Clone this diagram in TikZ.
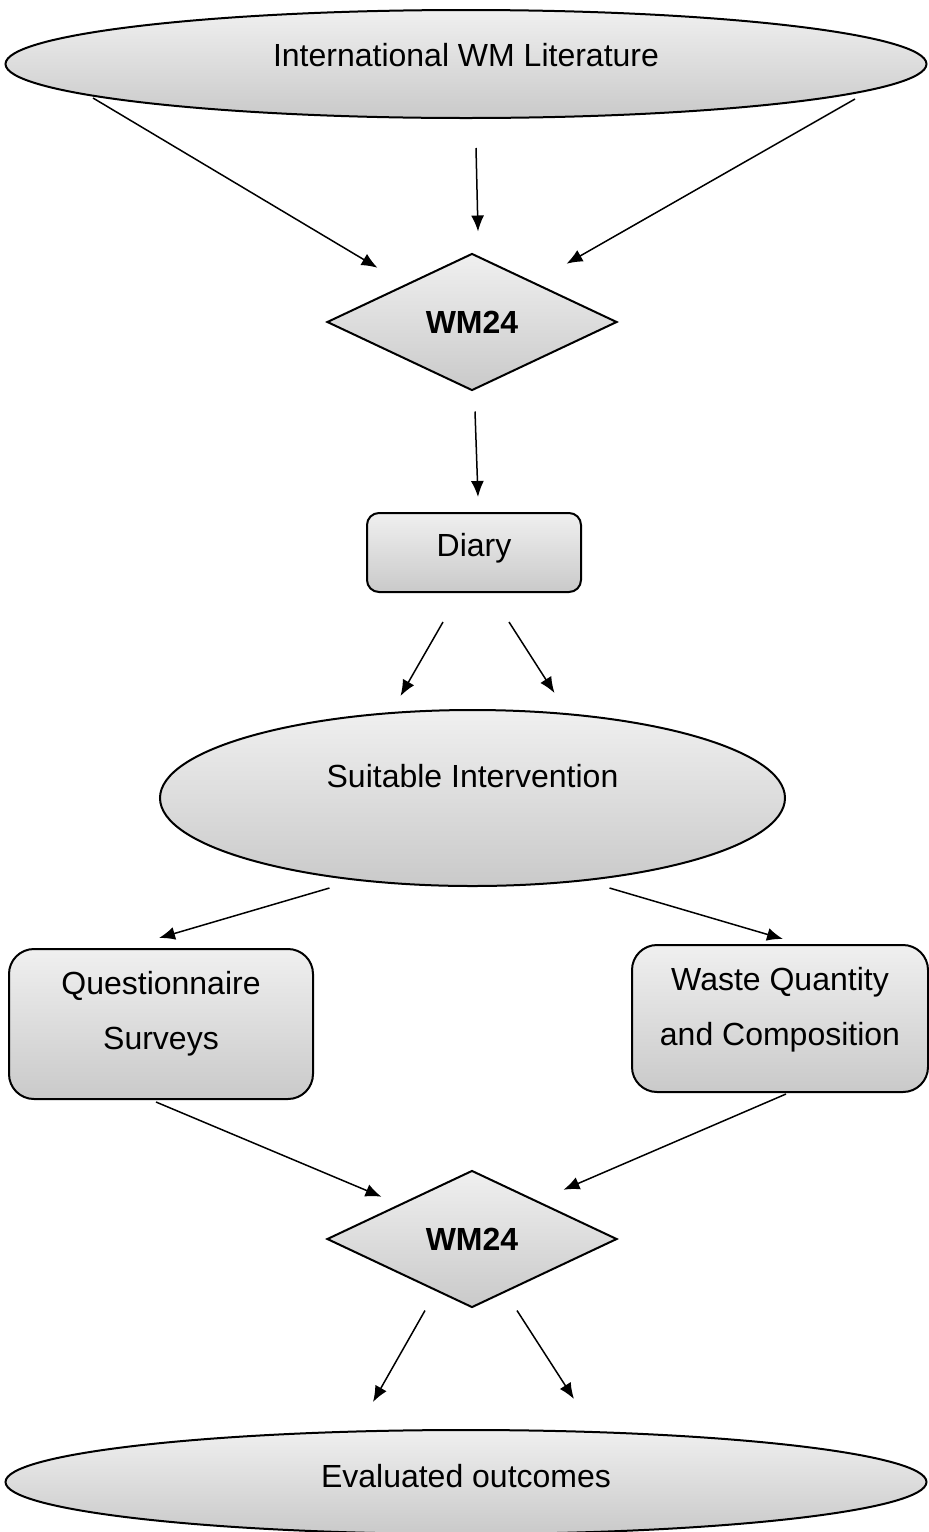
\documentclass[tikz,border=0pt]{standalone}
\usepackage{fontspec}
\setmainfont{Liberation Sans}
\usetikzlibrary{shapes.geometric,arrows.meta,calc}
\begin{document}
\begin{tikzpicture}[x=1pt,y=-1pt,
  grayfill/.style={top color=gray!12, bottom color=gray!42, draw=black, line width=2pt},
  oval/.style={grayfill, ellipse, inner sep=0pt},
  dia/.style={grayfill, diamond, inner sep=0pt, aspect=2.1, minimum width=290pt, minimum height=137pt,
     font=\fontsize{32}{38}\selectfont\bfseries},
  rbox/.style={grayfill, rectangle, rounded corners=#1, inner sep=0pt},
  txt/.style={font=\fontsize{32}{55}\selectfont, align=center},
  arr/.style={line width=1.5pt, -{Latex[length=16pt,width=13pt]}}
]
\useasboundingbox (0,0) rectangle (929,1532);

\node[oval, minimum width=921pt, minimum height=108pt,
  label={[txt,yshift=9pt]center:International WM Literature}] (lit) at (466,64) {};
\node[dia] (wm1) at (472,322) {WM24};
\node[rbox=12pt, minimum width=214pt, minimum height=79pt,
  label={[txt,yshift=4pt]center:Diary}] (diary) at (474,552.5) {};
\node[oval, minimum width=625pt, minimum height=176pt,
  label={[txt,yshift=22pt]center:Suitable Intervention}] (si) at (472.5,798) {};
\node[rbox=25pt, minimum width=304pt, minimum height=150pt,
  label={[txt,yshift=10pt]center:Questionnaire\\Surveys}] (qs) at (161,1024) {};
\node[rbox=25pt, minimum width=296pt, minimum height=147pt,
  label={[txt,yshift=9pt]center:Waste Quantity\\and Composition}] (wq) at (780,1018.5) {};
\node[dia] (wm2) at (472,1239) {WM24};
\node[oval, minimum width=921pt, minimum height=104pt,
  label={[txt,yshift=6pt]center:Evaluated outcomes}] (eo) at (466,1482) {};

% literature to WM24
\draw[arr] ($(lit.south)+(-373,-21)$) -- ($(wm1.north west)+(-21.5,-19.5)$);
\draw[arr] ($(lit.south)+(10,29)$) -- ($(wm1.north)+(6,-21)$);
\draw[arr] ($(lit.south)+(389,-20)$) -- ($(wm1.north east)+(21.5,-23.5)$);
% WM24 to diary
\draw[arr] ($(wm1.south)+(3,20)$) -- ($(diary.north)+(4,-15)$);
% diary to intervention
\draw[arr] ($(diary.south)+(-31,29)$) -- ($(si.north)+(-72,-13)$);
\draw[arr] ($(diary.south)+(35,29)$) -- ($(si.north)+(82,-16)$);
% intervention to boxes
\draw[arr] ($(si.south)+(-143,1)$) -- ($(qs.north)+(-2,-10)$);
\draw[arr] ($(si.south)+(137,1)$) -- ($(wq.north)+(3,-5)$);
% boxes to WM24
\draw[arr] ($(qs.south)+(-5,2)$) -- ($(wm2.north west)+(-17.5,-7.5)$);
\draw[arr] ($(wq.south)+(6,1)$) -- ($(wm2.north east)+(18.5,-14.5)$);
% WM24 to outcomes
\draw[arr] ($(wm2.south)+(-47,2)$) -- ($(eo.north)+(-93,-27)$);
\draw[arr] ($(wm2.south)+(45,2)$) -- ($(eo.north)+(108,-30)$);
\end{tikzpicture}
\end{document}
